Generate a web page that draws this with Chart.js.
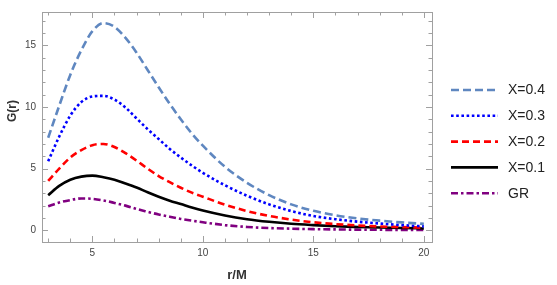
<!DOCTYPE html>
<html><head><meta charset="utf-8">
<script src="https://cdn.jsdelivr.net/npm/chart.js@4"></script>
<style>html,body{margin:0;padding:0;background:#fff;overflow:hidden}</style>
</head><body>
<canvas id="c" width="557" height="285"></canvas>
<script>
const rValues  = [3,3.5,4,4.5,5,5.5,6,6.5,7,7.5,8,8.5,9,9.5,10,11,12,13,14,15,16,17,18,19,20];
const seriesX04 = [7.5,10.1,12.6,14.6,16.15,16.8,16.5,15.6,14.4,13.0,11.6,10.25,9.0,7.85,6.86,5.15,3.85,2.85,2.1,1.58,1.22,0.96,0.78,0.64,0.52];
const seriesX03 = [5.6,7.6,9.3,10.4,10.85,10.9,10.6,9.95,9.07,8.2,7.4,6.6,5.9,5.25,4.66,3.65,2.8,2.1,1.56,1.16,0.9,0.7,0.55,0.42,0.32];
const seriesX02 = [4.0,5.0,5.9,6.5,6.9,7.0,6.75,6.25,5.65,5.0,4.4,3.9,3.45,3.05,2.72,2.08,1.56,1.16,0.87,0.65,0.5,0.39,0.31,0.26,0.21];
const seriesX01 = [2.85,3.6,4.1,4.35,4.43,4.3,4.1,3.8,3.47,3.08,2.72,2.4,2.13,1.85,1.6,1.2,0.9,0.69,0.53,0.42,0.33,0.27,0.22,0.18,0.15];
const seriesGR  = [1.95,2.25,2.45,2.58,2.55,2.42,2.22,2.0,1.73,1.5,1.28,1.1,0.92,0.78,0.65,0.42,0.27,0.18,0.13,0.09,0.07,0.05,0.04,0.03,0.03];
const seriesLabels = ['X=0.4','X=0.3','X=0.2','X=0.1','GR'];
const xTickLabels = [5,10,15,20];
const yTickLabels = [0,5,10,15];
const xMinorTicks = [3,4,5,6,7,8,9,10,11,12,13,14,15,16,17,18,19,20];
const yMinorTicks = [0,1,2,3,4,5,6,7,8,9,10,11,12,13,14,15,16,17];

const styles = [
  {color:'#5f87c0', dash:[8,4], width:2.6},
  {color:'#0000ff', dash:[2.6,2.6], width:2.6},
  {color:'#ff0000', dash:[7,4], width:2.6},
  {color:'#000000', dash:[], width:2.6},
  {color:'#800080', dash:[7,3,2.5,3], width:2.6}
];
const allSeries = [seriesX04, seriesX03, seriesX02, seriesX01, seriesGR];

const datasets = allSeries.map((s,i)=>({
  label: seriesLabels[i],
  data: s.map((v,k)=>({x:rValues[k], y:v})),
  borderColor: styles[i].color,
  borderDash: styles[i].dash,
  borderWidth: styles[i].width,
  pointRadius: 0,
  fill: false,
  cubicInterpolationMode: 'monotone',
  tension: 0.4
}));

const framePlugin = {
  id: 'frame',
  beforeDatasetsDraw(chart){
    const {ctx, chartArea:a, scales:{x, y}} = chart;
    ctx.save();
    ctx.strokeStyle = '#a0a0a0';
    ctx.lineWidth = 1;
    ctx.strokeRect(Math.round(a.left)+0.5, Math.round(a.top)+0.5, Math.round(a.right-a.left), Math.round(a.bottom-a.top));
    ctx.beginPath();
    xMinorTicks.forEach(v=>{
      const len = xTickLabels.includes(v) ? 6 : 3.5;
      const px = Math.round(x.getPixelForValue(v))+0.5;
      ctx.moveTo(px, a.bottom); ctx.lineTo(px, a.bottom-len);
      ctx.moveTo(px, a.top); ctx.lineTo(px, a.top+len);
    });
    yMinorTicks.forEach(v=>{
      const len = yTickLabels.includes(v) ? 6 : 3.5;
      const py = Math.round(y.getPixelForValue(v))+0.5;
      ctx.moveTo(a.left, py); ctx.lineTo(a.left+len, py);
      ctx.moveTo(a.right, py); ctx.lineTo(a.right-len, py);
    });
    ctx.stroke();
    ctx.restore();
  },
  afterDraw(chart){
    const {ctx, chartArea:a} = chart;
    ctx.save();
    ctx.fillStyle = '#333';
    ctx.font = 'bold 12px "Liberation Sans", Arial, sans-serif';
    ctx.textAlign = 'center';
    ctx.textBaseline = 'middle';
    ctx.save();
    ctx.translate(12.5, 111);
    ctx.rotate(-Math.PI/2);
    ctx.fillText('G(r)', 0, 0);
    ctx.restore();
    ctx.font = 'bold 13px "Liberation Sans", Arial, sans-serif';
    ctx.fillText('r/M', (a.left+a.right)/2, 275);
    chart.data.datasets.forEach((ds,i)=>{
      const yy = 90 + i*25.8;
      ctx.save();
      ctx.strokeStyle = ds.borderColor;
      ctx.lineWidth = ds.borderWidth;
      ctx.setLineDash(ds.borderDash);
      ctx.beginPath();
      ctx.moveTo(451, yy); ctx.lineTo(498, yy);
      ctx.stroke();
      ctx.restore();
      ctx.fillStyle = '#222';
      ctx.font = '14px "Liberation Sans", Arial, sans-serif';
      ctx.textAlign = 'left';
      ctx.textBaseline = 'middle';
      ctx.fillText(ds.label, 508, yy+0.5);
    });
    ctx.restore();
  }
};

new Chart(document.getElementById('c'), {
  type: 'line',
  data: { datasets },
  options: {
    responsive: false,
    animation: false,
    devicePixelRatio: 1,
    layout: { padding: { top: 2, right: 125, left: 0, bottom: 0 } },
    plugins: { legend: { display: false }, tooltip: { enabled: false } },
    scales: {
      x: {
        type: 'linear', min: 2.72, max: 20.37,
        grid: { display: false, drawTicks: false },
        border: { display: false },
        afterBuildTicks: s => { s.ticks = xTickLabels.map(v=>({value:v})); },
        afterFit: s => { s.height = 43; },
        ticks: { color: '#444', font: { size: 10, family: '"Liberation Sans", Arial, sans-serif' }, padding: 5, maxRotation: 0, autoSkip: false }
      },
      y: {
        type: 'linear', min: -0.95, max: 17.7,
        grid: { display: false, drawTicks: false },
        border: { display: false },
        afterBuildTicks: s => { s.ticks = yTickLabels.map(v=>({value:v})); },
        afterFit: s => { s.width = 42; },
        ticks: { color: '#444', font: { size: 10, family: '"Liberation Sans", Arial, sans-serif' }, padding: 6, autoSkip: false }
      }
    }
  },
  plugins: [framePlugin]
});
</script>
</body></html>
